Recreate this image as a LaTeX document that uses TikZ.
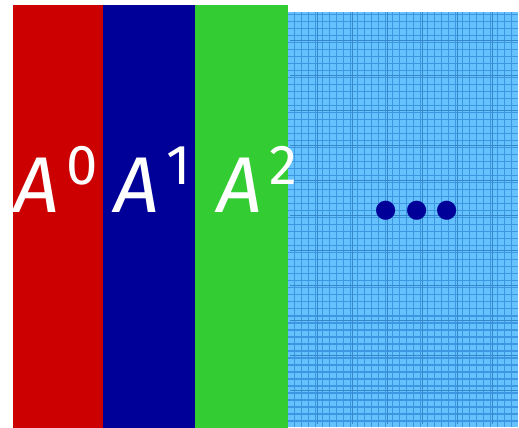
\documentclass[tikz,border=0pt]{standalone}
\usepackage{fontspec}
\setsansfont{Fira Sans}
\definecolor{stripred}{RGB}{204,0,0}
\definecolor{stripblue}{RGB}{0,0,153}
\definecolor{stripgreen}{RGB}{51,204,51}
\definecolor{gridfill}{RGB}{102,194,255}
\definecolor{gridline}{RGB}{60,150,225}
\usetikzlibrary{positioning}

\newcommand{\supdigit}[1]{\hspace{2pt}\raisebox{8pt}{\upshape\fontsize{16}{16}\selectfont #1}}

\begin{document}
\begin{tikzpicture}[
  power/.style={text=white,inner sep=0pt,anchor=base west,font=\sffamily\itshape\fontsize{22.5}{22.5}\selectfont}
]
\useasboundingbox (0,0) rectangle (5.19,4.28);

% the three stripes and the grid part
\fill[stripred] (0.13,0) rectangle (1.03,4.23);
\fill[stripblue] (1.03,0) rectangle (1.95,4.23);
\fill[stripgreen] (1.95,0) rectangle (2.88,4.23);
\fill[gridfill] (2.88,0.01) rectangle (5.18,4.16);
\draw[gridline,line width=.3pt,step=0.07] (2.88,0.01) grid (5.18,4.16);
\draw[gridline!90!black,line width=.25pt,step=0.35,shift={(0.02,0.03)}] (2.88,0.01) grid (5.16,4.13);

\node[power] (a0) at (0.14,2.15) {A\supdigit{0}};
\node[power] (a1) at (1.14,2.15) {A\supdigit{1}};
\node[power] (a2) at (2.17,2.15) {A\supdigit{2}};

\node[text=stripblue,font=\sffamily\bfseries\fontsize{30}{30}\selectfont,inner sep=0pt] (dots) at (4.17,2.17) {.\hspace{0.05em}.\hspace{0.05em}.};
\end{tikzpicture}
\end{document}
